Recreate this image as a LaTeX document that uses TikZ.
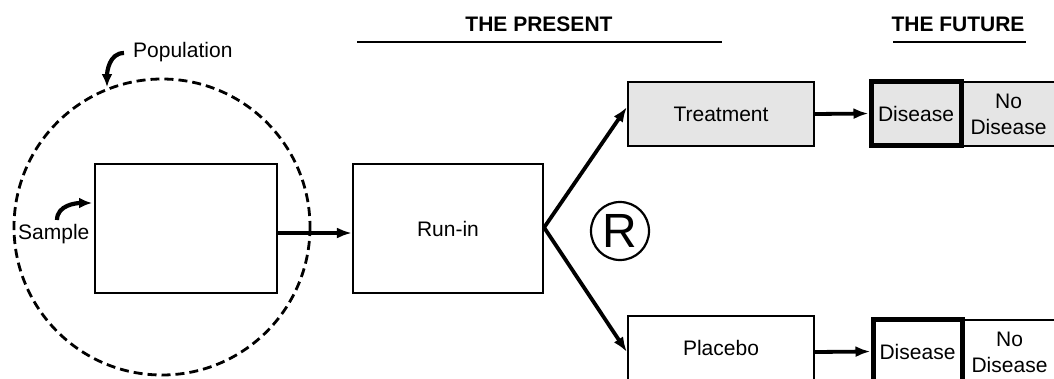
\documentclass[tikz,border=0pt]{standalone}
\usepackage{fontspec}
\setmainfont{Liberation Sans}
\usetikzlibrary{arrows.meta}
\tikzset{
  box/.style={draw, line width=2.2pt, inner sep=0pt, font=\fontsize{21}{26}\selectfont, align=center},
  gbox/.style={box, fill=black!10},
  thickbox/.style={box, line width=5pt},
  conn/.style={line width=3.8pt, -{Latex[length=15pt,width=11pt]}},
  curl/.style={line width=4.2pt, -{Latex[length=13pt,width=11pt]}},
  lbl/.style={font=\fontsize{21}{24}\selectfont, inner sep=0pt},
  head/.style={font=\bfseries\fontsize{21}{24}\selectfont, inner sep=0pt},
}
\begin{document}
\begin{tikzpicture}[x=1pt,y=-1pt]
\useasboundingbox (0,0) rectangle (1054,378);
\clip (0,0) rectangle (1054,378);
% population circle
\draw[line width=2.8pt, dash pattern=on 9pt off 5pt] (162,227) circle[radius=148];
% boxes
\node[box, minimum width=182, minimum height=129] (sample) at (186,228.5) {};
\node[box, minimum width=190, minimum height=129] (runin) at (448,228.5) {Run-in};
\node[gbox, minimum width=186, minimum height=64] (treat) at (721,114) {Treatment};
\node[box, minimum width=186, minimum height=64] (plac) at (721,348) {Placebo};
\node[gbox, minimum width=95, minimum height=64] (ndtop) at (1008.5,114) {No\\Disease};
\node[gbox, thickbox, minimum width=90, minimum height=64] (dtop) at (916,113.5) {Disease};
\node[box, minimum width=95, minimum height=64] (ndbot) at (1009.5,352) {No\\Disease};
\node[thickbox, minimum width=89, minimum height=64] (dbot) at (917.5,351.5) {Disease};
% R
\node[draw, circle, line width=2.2pt, minimum size=58, inner sep=0pt, font=\fontsize{48}{48}\selectfont] (rand) at (620,231) {\raisebox{1pt}{R}};
% headings
\node[head] (present) at (539,24) {THE PRESENT};
\node[head] (future) at (958,24) {THE FUTURE};
\coordinate (pl) at (357,42); \coordinate (pr) at (722,42);
\coordinate (fl) at (893,42); \coordinate (fr) at (1026,42);
\draw[line width=2.5pt] (pl) -- (pr);
\draw[line width=2.5pt] (fl) -- (fr);
% labels
\node[lbl, anchor=west] (pop) at (133,52) {Population};
\node[lbl, anchor=west] (samp) at (18,234) {Sample};
\coordinate (popstart) at (124,53);
\coordinate (poptip) at (107,87);
\coordinate (sampstart) at (57,220);
\coordinate (samptip) at (92,203);
\draw[curl] (popstart) to[out=180,in=90] (poptip);
\draw[curl] (sampstart) to[out=90,in=180] (samptip);
% connectors
\draw[conn] ([yshift=-4.5pt]sample.east) -- ([yshift=-4.5pt]runin.west);
\draw[conn] ([yshift=1pt]runin.east) -- ([yshift=7pt]treat.west);
\draw[conn] ([yshift=1pt]runin.east) -- ([yshift=-4pt]plac.west);
\draw[conn] (treat.east) -- (dtop.west);
\draw[conn] ([yshift=-4pt]plac.east) -- (dbot.west);
\end{tikzpicture}
\end{document}
